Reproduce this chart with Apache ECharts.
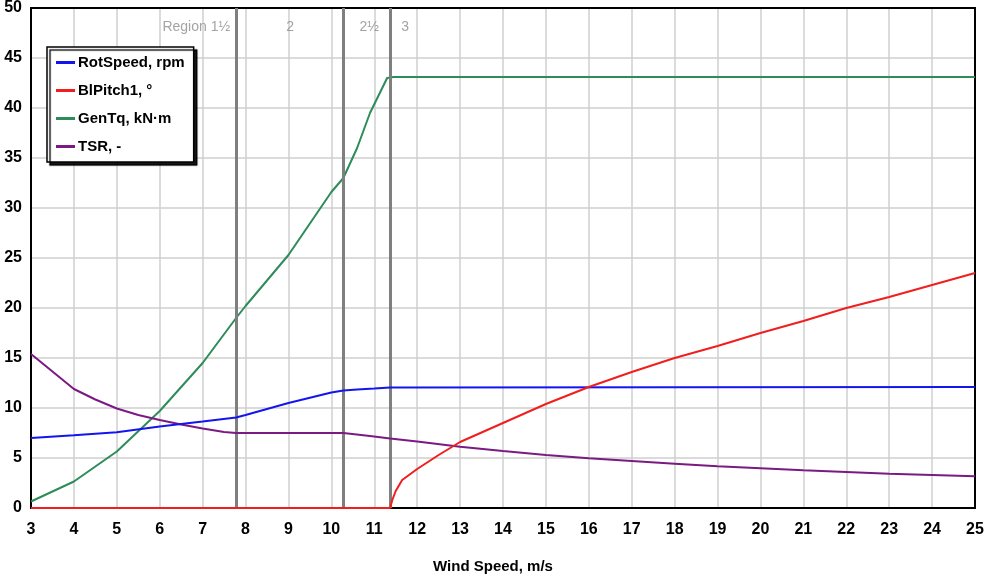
<!DOCTYPE html>
<html>
<head>
<meta charset="utf-8">
<script src="https://cdn.jsdelivr.net/npm/echarts@6/dist/echarts.min.js"></script>
<style>
	html, body { margin: 0; padding: 0; background: #fff; }
	#container { width: 986px; height: 580px; }
</style>
</head>
<body>
<div id="container"></div>
<script>
(function(){

	// 값은 그림에서 읽은 것;
	var rotSpeedX = [3, 4, 5, 6, 7, 7.78, 8, 9, 10, 10.28, 10.6, 11, 11.37, 25];
	var rotSpeedY = [7.0, 7.27, 7.57, 8.15, 8.65, 9.05, 9.3, 10.5, 11.55, 11.75, 11.85, 11.95, 12.05, 12.1];

	var blPitchX = [3, 11.37, 11.42, 11.5, 11.65, 12, 12.5, 13, 14, 15, 16, 17, 18, 19, 20, 21, 22, 23, 24, 25];
	var blPitchY = [0, 0, 0.8, 1.7, 2.8, 3.9, 5.3, 6.6, 8.5, 10.4, 12.1, 13.6, 15.0, 16.2, 17.5, 18.7, 20.0, 21.1, 22.3, 23.5];

	var genTqX = [3, 4, 5, 6, 7, 7.78, 8, 9, 10, 10.28, 10.6, 10.9, 11.3, 11.45, 25];
	var genTqY = [0.65, 2.65, 5.65, 9.7, 14.5, 19.0, 20.2, 25.3, 31.6, 33.0, 36.0, 39.5, 43.0, 43.1, 43.1];

	var tsrX = [3, 4, 4.5, 5, 5.5, 6, 6.5, 7, 7.5, 7.78, 10.28, 10.9, 11.37, 12, 13, 14, 15, 16, 17, 18, 19, 20, 21, 22, 23, 24, 25];
	var tsrY = [15.4, 11.9, 10.85, 9.95, 9.3, 8.8, 8.35, 7.95, 7.6, 7.5, 7.5, 7.2, 6.95, 6.65, 6.13, 5.7, 5.3, 4.97, 4.7, 4.43, 4.17, 3.97, 3.77, 3.6, 3.43, 3.3, 3.17];

	var seriesNames = ["RotSpeed, rpm", "BlPitch1, °", "GenTq, kN·m", "TSR, -"];
	var seriesColors = ["#1414f0", "#f01e1e", "#2e8b5a", "#7a1a82"];

	var regionBounds = [7.78, 10.28, 11.37];
	var regionNames = ["Region 1½", "2", "2½", "3"];
	var regionLabelX = [7.64, 9.04, 10.88, 11.72];
	var regionLabelY = 48.1;

	var FONT = "'Liberation Sans'";

	var zip = function( xs, ys ){
		var out = [];
		var i = 0, iLen = xs.length;
		for(;i<iLen;++i) out.push( [ xs[ i ], ys[ i ] ] );
		return out;
	};

	var lineSeries = function( idx, xs, ys, z ){
		return {
			name : seriesNames[ idx ],
			type : "line",
			data : zip( xs, ys ),
			showSymbol : false,
			symbol : "none",
			smooth : false,
			z : z,
			lineStyle : { color : seriesColors[ idx ], width : 2 },
			itemStyle : { color : seriesColors[ idx ] }
		};
	};

	var labelData = [];
	var i = 0, iLen = regionNames.length;
	for(;i<iLen;++i){
		labelData.push({
			value : [ regionLabelX[ i ], regionLabelY ],
			name : regionNames[ i ],
			label : { align : i == 0 ? "right" : "center" }
		});
	};

	var markData = [];
	i = 0; iLen = regionBounds.length;
	for(;i<iLen;++i) markData.push( { xAxis : regionBounds[ i ] } );

	var frameAxis = {
		show : true,
		axisLine : { show : true, onZero : false, lineStyle : { color : "#000", width : 2 } },
		axisTick : { show : false },
		axisLabel : { show : false },
		splitLine : { show : false }
	};

	var dom = window.document.getElementById( "container" );
	var myChart = echarts.init( dom, null, { renderer : "canvas" } );

	var option = {
		animation : false,
		backgroundColor : "#fff",
		grid : {
			left : 31, right : 11, top : 8, bottom : 72,
			containLabel : false,
			outerBoundsMode : "none",
			show : true,
			borderColor : "#000",
			borderWidth : 2,
			backgroundColor : "#fff"
		},
		legend : {
			orient : "vertical",
			left : 47, top : 47,
			padding : [ 8, 9, 8, 9 ],
			itemGap : 13,
			itemWidth : 19,
			itemHeight : 3,
			icon : "rect",
			backgroundColor : "#fff",
			borderColor : "#000",
			borderWidth : 1.5,
			shadowColor : "rgba(0,0,0,0.9)",
			shadowBlur : 1,
			shadowOffsetX : 3,
			shadowOffsetY : 3,
			textStyle : { fontFamily : FONT, fontWeight : "bold", fontSize : 15, color : "#000", padding : [ 0, 6, 0, -2 ] },
			data : seriesNames
		},
		xAxis : [
			{
				type : "value",
				min : 3, max : 25, interval : 1,
				name : "Wind Speed, m/s",
				nameLocation : "middle",
				nameGap : 51,
				nameTextStyle : { fontFamily : FONT, fontWeight : "bold", fontSize : 15, color : "#000", padding : [ 0, 20, 0, 0 ] },
				axisLine : { show : true, onZero : false, lineStyle : { color : "#000", width : 2 } },
				axisTick : { show : false },
				axisLabel : { fontFamily : FONT, fontWeight : "bold", fontSize : 16, color : "#000", margin : 14 },
				splitLine : { show : true, lineStyle : { color : "#cfcfcf", width : 1.5 } }
			},
			echarts.util.merge( { type : "value", position : "top", min : 3, max : 25 }, frameAxis )
		],
		yAxis : [
			{
				type : "value",
				min : 0, max : 50, interval : 5,
				axisLine : { show : true, onZero : false, lineStyle : { color : "#000", width : 2 } },
				axisTick : { show : false },
				axisLabel : { fontFamily : FONT, fontWeight : "bold", fontSize : 16, color : "#000", margin : 9 },
				splitLine : { show : true, lineStyle : { color : "#cfcfcf", width : 1.5 } }
			},
			echarts.util.merge( { type : "value", position : "right", min : 0, max : 50 }, frameAxis )
		],
		series : [
			{
				name : "regions",
				type : "scatter",
				symbolSize : 0,
				z : 3,
				silent : true,
				data : labelData,
				label : {
					show : true,
					position : "inside",
					formatter : "{b}",
					fontFamily : FONT,
					fontSize : 14,
					color : "#8c8c8c"
				},
				markLine : {
					silent : true,
					symbol : [ "none", "none" ],
					label : { show : false },
					lineStyle : { color : "#7f7f7f", width : 3, type : "solid" },
					data : markData
				}
			},
			lineSeries( 2, genTqX, genTqY, 4 ),
			lineSeries( 3, tsrX, tsrY, 5 ),
			lineSeries( 0, rotSpeedX, rotSpeedY, 6 ),
			lineSeries( 1, blPitchX, blPitchY, 7 )
		]
	};

	if( option && typeof option === "object" ) myChart.setOption( option, true );

	window.addEventListener( "resize", function(e){ myChart.resize(); } );
})();
</script>
</body>
</html>
